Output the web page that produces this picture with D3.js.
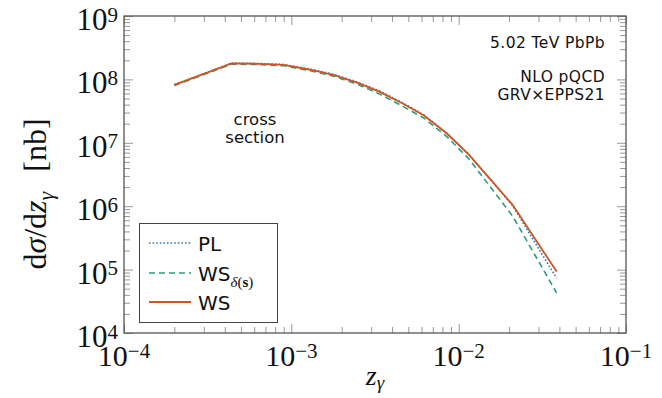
<!DOCTYPE html>
<html>
<head>
<meta charset="utf-8">
<script src="https://cdn.jsdelivr.net/npm/d3@7"></script>
<style>
  body { margin: 0; background: #fff; }
  svg text { fill: #111; }
</style>
</head>
<body>
<div id="chart"></div>
<script>
// Werte
const zValues = [2.0e-4, 3.0e-4, 4.4e-4, 6.5e-4, 9.0e-4, 1.3e-3, 1.8e-3, 2.5e-3, 3.4e-3, 4.6e-3, 6.2e-3, 8.5e-3, 1.15e-2, 2.1e-2, 3.85e-2];
const wsValues  = [8.2e7, 1.22e8, 1.79e8, 1.76e8, 1.70e8, 1.42e8, 1.17e8, 8.8e7, 6.3e7, 4.2e7, 2.7e7, 1.4e7, 6.5e6, 1.05e6, 9.3e4];
const plValues  = [8.3e7, 1.23e8, 1.81e8, 1.78e8, 1.72e8, 1.45e8, 1.20e8, 9.0e7, 6.5e7, 4.3e7, 2.75e7, 1.42e7, 6.6e6, 1.02e6, 7.3e4];
const wsdValues = [8.0e7, 1.19e8, 1.74e8, 1.71e8, 1.64e8, 1.37e8, 1.12e8, 8.3e7, 5.8e7, 3.8e7, 2.45e7, 1.25e7, 5.6e6, 7.0e5, 4.3e4];

const xDecades = [1e-4, 1e-3, 1e-2, 1e-1];
const yDecades = [1e4, 1e5, 1e6, 1e7, 1e8, 1e9];

const width = 662, height = 398;
const margin = {left: 124, right: 36, top: 16, bottom: 65};

const svg = d3.select("#chart")
    .append("svg")
    .attr("width", width)
    .attr("height", height);

const x = d3.scaleLog().domain([1e-4, 1e-1]).range([margin.left, width - margin.right]);
const y = d3.scaleLog().domain([1e4, 1e9]).range([height - margin.bottom, margin.top]);

// Nebenstriche 2..9 pro Dekade
const minor = (decades) => {
    const out = [];
    decades.slice(0, -1).forEach(d => { for (let k = 2; k <= 9; k++) out.push(d * k); });
    return out;
};

const tickColor = "#999";
const x0 = x.range()[0], x1 = x.range()[1];
const y0 = y.range()[0], y1 = y.range()[1];

function drawAxis(axisFn, scale, values, size, tx, ty) {
    const g = svg.append("g")
        .attr("transform", `translate(${tx},${ty})`)
        .call(axisFn(scale).tickValues(values).tickSize(size).tickFormat(""));
    g.select(".domain").remove();
    g.selectAll(".tick line").attr("stroke", tickColor).attr("stroke-width", 1);
    return g;
}

// Striche innen auf allen vier Seiten
drawAxis(d3.axisBottom, x, minor(xDecades), -6, 0, y0);
drawAxis(d3.axisBottom, x, xDecades, -9, 0, y0);
drawAxis(d3.axisTop, x, minor(xDecades), -6, 0, y1);
drawAxis(d3.axisTop, x, xDecades, -9, 0, y1);
drawAxis(d3.axisLeft, y, minor(yDecades), -6, x0, 0);
drawAxis(d3.axisLeft, y, yDecades, -9, x0, 0);
drawAxis(d3.axisRight, y, minor(yDecades), -6, x1, 0);
drawAxis(d3.axisRight, y, yDecades, -9, x1, 0);

// Rahmen
svg.append("rect")
    .attr("x", x0).attr("y", y1)
    .attr("width", x1 - x0).attr("height", y0 - y1)
    .attr("fill", "none").attr("stroke", "#555").attr("stroke-width", 1.3);

const serif = "'Liberation Serif', 'DejaVu Serif', serif";
const sans = "'DejaVu Sans', sans-serif";

function powerLabel(sel, exp, supSize) {
    sel.append("tspan").text("10");
    sel.append("tspan").attr("dy", "-0.4em").attr("font-size", supSize)
        .text(exp < 0 ? "\u2212" + (-exp) : exp);
}

// x Beschriftung
xDecades.forEach(v => {
    const t = svg.append("text")
        .attr("x", x(v)).attr("y", 366)
        .attr("text-anchor", "middle")
        .attr("font-family", serif).attr("font-size", "30px");
    powerLabel(t, Math.round(Math.log10(v)), "21px");
});

// y Beschriftung
yDecades.forEach(v => {
    const t = svg.append("text")
        .attr("x", 118).attr("y", y(v) + 14)
        .attr("text-anchor", "end")
        .attr("font-family", serif).attr("font-size", "31px");
    powerLabel(t, Math.round(Math.log10(v)), "21px");
});

// Achsentitel
const xt = svg.append("text")
    .attr("x", (x0 + x1) / 2).attr("y", 385)
    .attr("text-anchor", "middle")
    .attr("font-family", serif).attr("font-size", "28px");
xt.append("tspan").attr("font-style", "italic").text("z");
xt.append("tspan").attr("font-style", "italic").attr("font-size", "19px").attr("dy", "0.22em").text("γ");

const yt = svg.append("text")
    .attr("transform", `translate(46,194) rotate(-90)`)
    .attr("text-anchor", "middle")
    .attr("font-family", serif).attr("font-size", "32px");
yt.append("tspan").text("d");
yt.append("tspan").attr("font-style", "italic").text("σ");
yt.append("tspan").text("/d");
yt.append("tspan").attr("font-style", "italic").text("z");
yt.append("tspan").attr("font-style", "italic").attr("font-size", "22px").attr("dy", "0.3em").text("γ");
yt.append("tspan").attr("dy", "-0.2em").attr("dx", "20").text("[nb]");

// Kurven
const series = [
    {name: "PL", values: plValues, color: "#3576b8", dash: "1.6,2", width: 1.6},
    {name: "WSd", values: wsdValues, color: "#2a9d7c", dash: "6,4", width: 1.6},
    {name: "WS", values: wsValues, color: "#cf5522", dash: null, width: 1.8}
];

const line = d3.line()
    .x(d => x(d[0]))
    .y(d => y(d[1]));

series.forEach(s => {
    svg.append("path")
        .datum(zValues.map((z, i) => [z, s.values[i]]))
        .attr("d", line)
        .attr("fill", "none")
        .attr("stroke", s.color)
        .attr("stroke-width", s.width)
        .attr("stroke-dasharray", s.dash);
});

// Legende
const lg = svg.append("g");
lg.append("rect")
    .attr("x", 139.5).attr("y", 223.5).attr("width", 138).attr("height", 99)
    .attr("fill", "#fff").attr("stroke", "#444").attr("stroke-width", 1);

const legendY = [243, 273, 302];
series.forEach((s, i) => {
    lg.append("line")
        .attr("x1", 149).attr("x2", 191)
        .attr("y1", legendY[i]).attr("y2", legendY[i])
        .attr("stroke", s.color).attr("stroke-width", s.width)
        .attr("stroke-dasharray", s.dash);
    const t = lg.append("text")
        .attr("x", 198).attr("y", legendY[i] + 8)
        .attr("font-family", sans).attr("font-size", "20px");
    if (s.name === "WSd") {
        t.append("tspan").text("WS");
        const sub = t.append("tspan").attr("dy", "0.38em").attr("font-family", serif).attr("font-size", "15px");
        sub.append("tspan").attr("font-style", "italic").text("δ");
        sub.append("tspan").text("(");
        sub.append("tspan").attr("font-weight", "bold").text("s");
        sub.append("tspan").text(")");
    } else {
        t.text(s.name);
    }
});

// Anmerkungen
const notes = [
    {text: "5.02 TeV PbPb", y: 48},
    {text: "NLO pQCD", y: 82},
    {text: "GRV\u00d7EPPS21", y: 100}
];
notes.forEach(n => {
    svg.append("text")
        .attr("x", 605).attr("y", n.y)
        .attr("text-anchor", "end")
        .attr("font-family", sans).attr("font-size", "15.5px")
        .attr("letter-spacing", "0.4px")
        .text(n.text);
});

svg.append("text")
    .attr("x", 255).attr("y", 125)
    .attr("text-anchor", "middle")
    .attr("font-family", sans).attr("font-size", "16.5px")
    .text("cross");
svg.append("text")
    .attr("x", 255).attr("y", 143)
    .attr("text-anchor", "middle")
    .attr("font-family", sans).attr("font-size", "16.5px")
    .text("section");
</script>
</body>
</html>
